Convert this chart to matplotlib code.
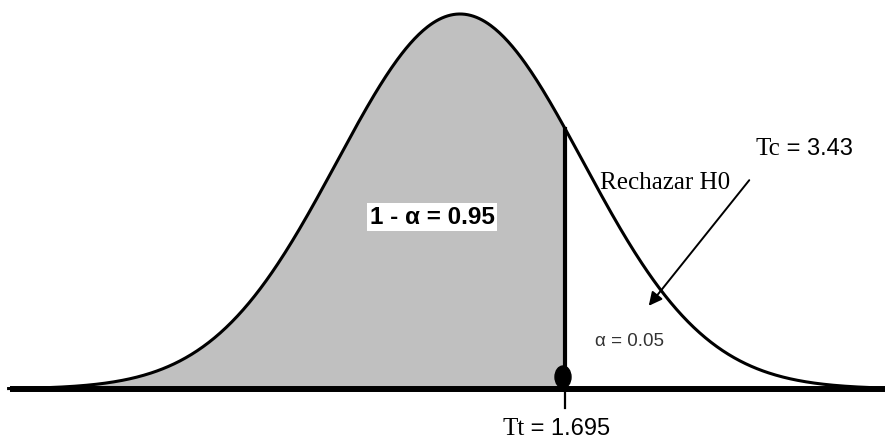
import numpy as np
import matplotlib.pyplot as plt
from matplotlib.patches import Ellipse

# --- values ---
MEAN = 0.0
SD = 1.0
T_LINE = 0.854          # position of the vertical cut (in sd units, schematic)
X_RANGE = [-3.67, 3.34]  # where the curve is drawn
LABEL_AREA = "1 - \u03b1 = 0.95"
LABEL_REJECT = "Rechazar H0"
LABEL_TC = ["Tc", " = 3.43"]
LABEL_ALPHA = "\u03b1 = 0.05"
LABEL_TT = ["Tt", " = 1.695"]

# pixel -> data helpers (figure is 888x440, peak at px 460, baseline px 389)
PX_X = 123.0
PX_Y = 940.0
def px(x, y):
    return ((x - 460) / PX_X, (389 - y) / PX_Y)

fig = plt.figure(figsize=(8.88, 4.4), dpi=100)
ax = fig.add_axes([0, 0, 1, 1])
ax.set_xlim(px(0, 0)[0], px(888, 0)[0])
ax.set_ylim(px(0, 440)[1], px(0, 0)[1])
ax.axis("off")

x = np.linspace(X_RANGE[0], X_RANGE[1], 600)
y = np.exp(-0.5 * ((x - MEAN) / SD) ** 2) / (SD * np.sqrt(2 * np.pi))

mask = x <= T_LINE
ax.fill_between(x[mask], 0, y[mask], color="#c0c0c0", lw=0, zorder=1)
ax.plot(x, y, color="black", lw=2.2, zorder=3)

# baseline
x0, _ = px(10, 0)
x1, _ = px(885, 0)
ax.plot([x0, x1], [0, 0], color="black", lw=4.3, solid_capstyle="butt", zorder=4)

# vertical line at the cut
y_cut = np.exp(-0.5 * ((T_LINE - MEAN) / SD) ** 2) / (SD * np.sqrt(2 * np.pi))
ax.plot([T_LINE, T_LINE], [0, y_cut], color="black", lw=3.0, zorder=4)
ax.plot([T_LINE, T_LINE], [0, px(0, 408)[1]], color="black", lw=1.6, zorder=4)
ax.add_patch(Ellipse(px(563, 377), 16 / PX_X, 22 / PX_Y, color="black", zorder=5))

# labels
ax.text(*px(432, 217), LABEL_AREA, ha="center", va="center", fontsize=17.5,
        fontweight="bold", family="Liberation Sans", zorder=6,
        bbox=dict(facecolor="white", edgecolor="none", pad=1.5))
ax.text(*px(600, 183), LABEL_REJECT, ha="left", va="center", fontsize=18,
        family="Liberation Serif", zorder=6)
t = ax.text(*px(755, 149), LABEL_TC[0], ha="left", va="center", fontsize=18,
            family="Liberation Serif", zorder=6)
ax.annotate(LABEL_TC[1], xy=(1, 0.5), xycoords=t, va="center", ha="left",
            fontsize=17, family="Liberation Sans")
ax.text(*px(595, 341), LABEL_ALPHA, ha="left", va="center", fontsize=13.5,
        family="Liberation Sans", color="#333333", zorder=6)
t2 = ax.text(*px(502, 429), LABEL_TT[0], ha="left", va="center", fontsize=18,
             family="Liberation Serif", zorder=6)
ax.annotate(LABEL_TT[1], xy=(1, 0.5), xycoords=t2, va="center", ha="left",
            fontsize=17, family="Liberation Sans")

# arrow
ax.annotate("", xy=px(647, 308), xytext=px(751, 178),
            arrowprops=dict(arrowstyle="-|>", color="black", lw=1.4,
                            mutation_scale=20), zorder=6)

fig.savefig("out.png", dpi=100)
